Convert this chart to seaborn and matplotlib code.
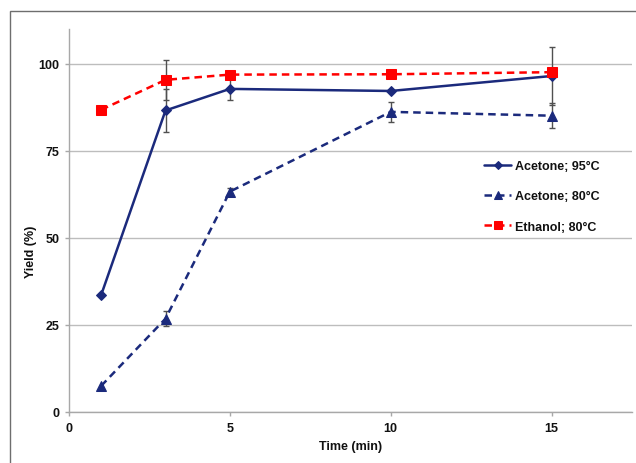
import matplotlib
matplotlib.use("Agg")
import matplotlib.pyplot as plt
import seaborn as sns
import pandas as pd
from matplotlib.patches import Rectangle

# ---- data ----
time_min = [1, 3, 5, 10, 15]
acetone95 = [33.6, 86.6, 92.8, 92.2, 96.5]
acetone95_err = [0, 6.1, 3.1, 0, 8.3]
acetone80 = [7.5, 26.8, 63.3, 86.2, 85.1]
acetone80_err = [0, 2.2, 1.0, 2.8, 3.6]
ethanol80 = [86.8, 95.4, 96.9, 97.0, 97.6]
ethanol80_err = [0, 5.7, 0, 0, 0]
series_names = ["Acetone; 95°C", "Acetone; 80°C", "Ethanol; 80°C"]
y_ticks = [0, 25, 50, 75, 100]
x_ticks = [0, 5, 10, 15]

sns.set_theme(style="white")
plt.rcParams["font.family"] = ["Liberation Sans", "DejaVu Sans"]
plt.rcParams["font.weight"] = "bold"

navy = "#1B2A7C"
red = "#FF0000"

fig = plt.figure(figsize=(6.36, 4.64), dpi=100)
fig.patch.set_facecolor("white")
# outer chart frame (cropped on right/bottom)
fig.patches.append(Rectangle((10 / 636, -0.05), 1.2, 1 - 12 / 464 + 0.05,
                             transform=fig.transFigure, fill=False,
                             edgecolor="#6E6E6E", linewidth=1.0))

ax = fig.add_axes([69 / 636, 1 - 413 / 464, 563 / 636, 383 / 464])

df = pd.DataFrame({"t": time_min, "a95": acetone95, "a80": acetone80, "e80": ethanol80})

# error bars
for ys, es in [(acetone95, acetone95_err), (acetone80, acetone80_err), (ethanol80, ethanol80_err)]:
    xs = [x for x, e in zip(time_min, es) if e > 0]
    yv = [y for y, e in zip(ys, es) if e > 0]
    ev = [e for e in es if e > 0]
    ax.errorbar(xs, yv, yerr=ev, fmt="none", ecolor="#505050", elinewidth=1.0,
                capsize=2.2, capthick=1.0, zorder=2)

sns.lineplot(data=df, x="t", y="a95", ax=ax, color=navy, linewidth=1.8,
             marker="D", markersize=5, markeredgecolor=navy, label=series_names[0], zorder=3)
sns.lineplot(data=df, x="t", y="a80", ax=ax, color=navy, linewidth=1.8, linestyle=(0, (3, 2)),
             marker="^", markersize=7, markeredgecolor=navy, label=series_names[1], zorder=3)
sns.lineplot(data=df, x="t", y="e80", ax=ax, color=red, linewidth=1.8, linestyle=(0, (3, 2)),
             marker="s", markersize=7, markeredgecolor=red, label=series_names[2], zorder=4)

ax.set_xlim(0, 17.5)
ax.set_ylim(0, 110)
ax.set_yticks(y_ticks)
ax.set_xticks(x_ticks)
ax.yaxis.grid(True, color="#BDBDBD", linewidth=1.0)
ax.xaxis.grid(False)
ax.set_axisbelow(True)
for s in ["top", "right"]:
    ax.spines[s].set_visible(False)
for s in ["left", "bottom"]:
    ax.spines[s].set_color("#A8A8A8")
    ax.spines[s].set_linewidth(1.0)
ax.tick_params(axis="both", which="major", length=3, width=1, color="#A8A8A8",
               labelsize=9, pad=4, direction="out", left=True, bottom=True)
for lab in ax.get_xticklabels() + ax.get_yticklabels():
    lab.set_fontweight("bold")
    lab.set_color("#111111")

ax.set_xlabel("Time (min)", fontsize=9, fontweight="bold", color="#111111")
ax.set_ylabel("Yield (%)", fontsize=9, fontweight="bold", color="#111111")
ax.xaxis.set_label_coords(0.5, -0.073)
ax.yaxis.set_label_coords(-0.056, 0.42)

leg = ax.legend(loc="upper left", bbox_to_anchor=(0.737, 0.657), frameon=False,
                fontsize=9, handlelength=2.2, handletextpad=0.3, labelspacing=1.45,
                borderpad=0, borderaxespad=0, markerscale=0.85)
for t in leg.get_texts():
    t.set_fontweight("bold")
    t.set_color("#111111")

fig.savefig("out.png", dpi=100, facecolor="white")
